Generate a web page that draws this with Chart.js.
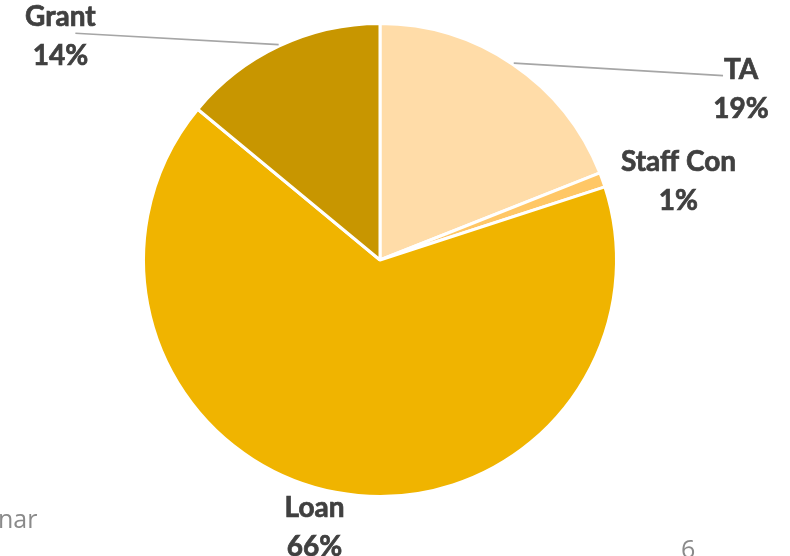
<!DOCTYPE html>
<html>
<head>
<meta charset="utf-8">
<script src="https://cdn.jsdelivr.net/npm/chart.js@4/dist/chart.umd.min.js"></script>
<style>
  html, body { margin: 0; padding: 0; background: #fff; }
  #wrap { position: relative; width: 790px; height: 556px; overflow: hidden; }
  canvas { position: absolute; left: 0; top: 0; }
  .frag { position: absolute; font-family: "Open Sans", sans-serif; color: #8a8a8a; }
</style>
</head>
<body>
<div id="wrap">
  <canvas id="pie" width="790" height="556"></canvas>
  <div class="frag" style="left:-2px; top:501px; font-size:25px;">nar</div>
  <div class="frag" style="left:681px; top:531px; font-size:25px;">6</div>
</div>
<script>
const categories = ["TA", "Staff Con", "Loan", "Grant"];
const shares = [19, 1, 66, 14];
const sliceColors = ["#FFDCA8", "#FFC766", "#F0B400", "#C89600"];

// label centre relative to the pie centre (in radii); leader end offset from label centre (px)
const labelSpots = [
  { dx: 1.517, dy: -0.80, leader: [-18, 6] },
  { dx: 1.254, dy: -0.41, leader: null },
  { dx: -0.275, dy: 1.04, leader: null },
  { dx: -1.343, dy: -1.02, leader: [15, 16] }
];

const pieLabels = {
  id: "pieLabels",
  afterDatasetsDraw(chart) {
    const ctx = chart.ctx;
    const arcs = chart.getDatasetMeta(0).data;
    ctx.save();
    arcs.forEach((arc, i) => {
      const { x, y, outerRadius, startAngle, endAngle } = arc.getProps(["x", "y", "outerRadius", "startAngle", "endAngle"], true);
      const r = outerRadius + 1.5;
      const spot = labelSpots[i];
      const lx = x + spot.dx * r;
      const ly = y + spot.dy * r;
      if (spot.leader) {
        const mid = (startAngle + endAngle) / 2;
        ctx.strokeStyle = "#a6a6a6";
        ctx.lineWidth = 1.6;
        ctx.beginPath();
        ctx.moveTo(x + Math.cos(mid) * r, y + Math.sin(mid) * r);
        ctx.lineTo(lx + spot.leader[0], ly + spot.leader[1]);
        ctx.stroke();
      }
      ctx.fillStyle = "#404040";
      ctx.strokeStyle = "#404040";
      ctx.lineWidth = 0.7;
      ctx.font = "bold 28px Lato";
      ctx.textAlign = "center";
      ctx.textBaseline = "middle";
      [categories[i], shares[i] + "%"].forEach((t, k) => {
        ctx.fillText(t, lx, ly + k * 39);
        ctx.strokeText(t, lx, ly + k * 39);
      });
    });
    ctx.restore();
  }
};

new Chart(document.getElementById("pie").getContext("2d"), {
  type: "pie",
  data: {
    labels: categories,
    datasets: [{
      data: shares,
      backgroundColor: sliceColors,
      borderColor: "#ffffff",
      borderWidth: 3
    }]
  },
  options: {
    responsive: false,
    animation: false,
    layout: { padding: { top: 22, bottom: 58, left: 142, right: 172 } },
    plugins: {
      legend: { display: false },
      tooltip: { enabled: false }
    }
  },
  plugins: [pieLabels]
});
</script>
</body>
</html>
